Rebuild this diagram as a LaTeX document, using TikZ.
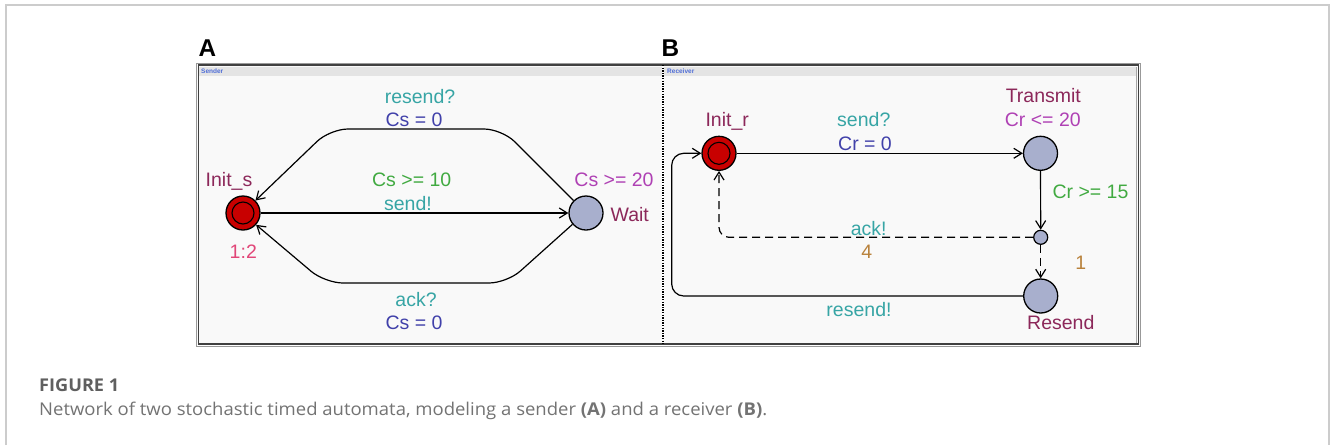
\documentclass[tikz,border=0pt]{standalone}
\usepackage{fontspec}
\usepackage{graphicx}
\setmainfont{Liberation Sans}
\newfontfamily\capfont{Open Sans}
\usetikzlibrary{arrows.meta}
\definecolor{locname}{RGB}{140,40,90}
\definecolor{inv}{RGB}{175,65,180}
\definecolor{guard}{RGB}{65,170,65}
\definecolor{sync}{RGB}{55,165,165}
\definecolor{upd}{RGB}{65,65,170}
\definecolor{rate}{RGB}{225,70,120}
\definecolor{prob}{RGB}{185,130,60}
\definecolor{initred}{RGB}{200,0,0}
\definecolor{locfill}{RGB}{168,175,205}
\definecolor{panelbg}{RGB}{249,249,249}
\definecolor{titlebar}{RGB}{228,228,228}
\definecolor{titleblue}{RGB}{80,110,215}
\definecolor{capgray}{RGB}{115,115,115}
\definecolor{figgray}{RGB}{95,95,95}
\tikzset{
  lbl/.style={font=\fontsize{19.5}{21}\selectfont, inner sep=0pt, anchor=base},
  loc/.style={circle, draw=black, line width=1.3pt, fill=locfill, minimum size=34pt, inner sep=0pt},
  initloc/.style={loc, fill=initred, path picture={\draw[line width=1.1pt] (path picture bounding box.center) circle (11pt);}},
  branchpt/.style={circle, draw=black, line width=1.2pt, fill=locfill, minimum size=14pt, inner sep=0pt},
  edgeline/.style={line width=1.2pt, -{Straight Barb[length=8pt,width=10pt,line width=1.2pt]}, rounded corners=18pt},
  dashedge/.style={edgeline, dash pattern=on 8pt off 5pt, rounded corners=10pt},
  plabel/.style={font=\fontsize{24.3}{26}\selectfont\bfseries, anchor=base, inner sep=0pt},
  ttl/.style={font=\fontsize{6.5}{7}\selectfont\bfseries, text=titleblue, anchor=base west, inner sep=0pt},
}
\newlength\capw
\newlength\figw
\newcommand\captext{Network of two stochastic timed automata, modeling a sender \textbf{(A)} and a receiver \textbf{(B)}.}
\newcommand\figtext{\bfseries FIGURE 1}
\begin{document}
\settowidth\capw{\capfont\fontsize{17.6}{20}\selectfont\captext}%
\pgfmathsetmacro\capsc{728/\capw}%
\settowidth\figw{\capfont\fontsize{17.6}{20}\selectfont\figtext}%
\pgfmathsetmacro\figsc{80/\figw}%
\begin{tikzpicture}[x=1pt,y=-1pt]
\useasboundingbox (0,0) rectangle (1330,445);
\fill[white] (0,0) rectangle (1330,445);
% page border
\draw[line width=1.5pt, color=black!20] (6,445) -- (6,5) -- (1329,5) -- (1329,445);
% panels
\fill[panelbg] (197,64) rectangle (1140,345);
\fill[titlebar] (199,67) rectangle (1137,76);
\draw[black!40, line width=0.8pt] (196.5,63.5) rectangle (1140.5,346.5);
\draw[black!75, line width=1.4pt] (198.5,65) rectangle (1138.5,344);
\draw[black!35, line width=0.8pt] (1136,67) -- (1136,343);
\draw[white, line width=2.6pt] (663,65) -- (663,344);
\draw[black, line width=2.6pt, dash pattern=on 1.3pt off 1.3pt] (663,65) -- (663,344);
\node[ttl] (tsender) at (201,73) {Sender};
\node[ttl] (treceiver) at (667,73) {Receiver};
\node[plabel] (pa) at (207.5,56.7) {A};
\node[plabel] (pb) at (670.5,56.7) {B};

% ---- Panel A ----
\node[initloc] (inits) at (243,213) {};
\node[loc] (wait) at (586,213) {};
\draw[edgeline] (inits) -- (wait);
\draw[edgeline] (wait.135) -- (502,129) -- (330,129) -- (inits.45);
\draw[edgeline] (wait.-140) -- (507,283) -- (325,283) -- (inits.-42);
\node[lbl, text=sync] (la1) at (420,103.3) {resend?};
\node[lbl, text=upd] (la2) at (414,126.7) {Cs = 0};
\node[lbl, text=guard] (la3) at (411.7,186.7) {Cs >= 10};
\node[lbl, text=sync] (la4) at (408,210.7) {send!};
\node[lbl, text=locname] (la5) at (229,186.7) {Init\_s};
\node[lbl, text=rate] (la6) at (243.3,258.3) {1:2};
\node[lbl, text=inv] (la7) at (614,186.7) {Cs >= 20};
\node[lbl, text=locname] (la8) at (629.7,221.7) {Wait};
\node[lbl, text=sync] (la9) at (416,306) {ack?};
\node[lbl, text=upd] (la10) at (414,329.3) {Cs = 0};

% ---- Panel B ----
\node[initloc] (initr) at (719,153.3) {};
\node[loc] (transmit) at (1040.5,153.3) {};
\node[branchpt] (br) at (1040.7,237.3) {};
\node[loc] (resend) at (1040.7,296) {};
\draw[edgeline] (initr) -- (transmit);
\draw[edgeline] (transmit) -- (br);
\draw[dashedge] (br.west) -- (719,237.3) -- (initr.south);
\draw[dashedge] (br) -- (resend);
\draw[edgeline, rounded corners=12pt] (resend.west) -- (671.7,296) -- (671.7,153.3) -- (initr.west);
\node[lbl, text=locname] (lb1) at (727.2,126.7) {Init\_r};
\node[lbl, text=sync] (lb2) at (863.8,126.7) {send?};
\node[lbl, text=upd] (lb3) at (865,150) {Cr = 0};
\node[lbl, text=locname] (lb4) at (1043.3,102.7) {Transmit};
\node[lbl, text=inv] (lb5) at (1042.8,126.7) {Cr <= 20};
\node[lbl, text=guard] (lb6) at (1090.5,198.3) {Cr >= 15};
\node[lbl, text=sync] (lb7) at (868.7,235) {ack!};
\node[lbl, text=prob] (lb8) at (866.7,258.3) {4};
\node[lbl, text=prob] (lb9) at (1080.7,269.3) {1};
\node[lbl, text=sync] (lb10) at (859,316.7) {resend!};
\node[lbl, text=locname] (lb11) at (1060.8,329.3) {Resend};

% ---- Caption ----
\node[anchor=base west, inner sep=0pt, text=figgray] (figlabel) at (39,391.7) {\scalebox{\figsc}[1]{\capfont\fontsize{17.6}{20}\selectfont\figtext}};
\node[anchor=base west, inner sep=0pt, text=capgray] (caption) at (39,415) {\scalebox{\capsc}[1]{\capfont\fontsize{17.6}{20}\selectfont\captext}};
\end{tikzpicture}
\end{document}
